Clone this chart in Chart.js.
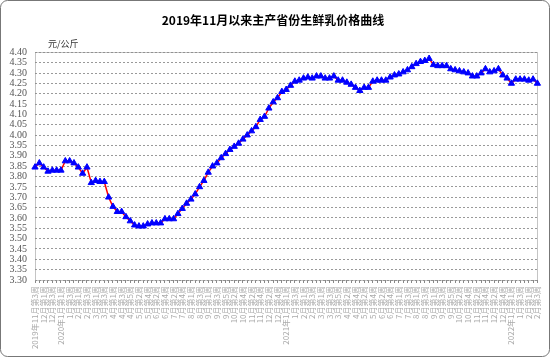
<!DOCTYPE html>
<html>
<head>
<meta charset="utf-8">
<script src="https://cdn.jsdelivr.net/npm/chart.js@4/dist/chart.umd.min.js"></script>
<style>
  html, body { margin: 0; padding: 0; background: #fff; }
  #wrap { width: 550px; height: 357px; }
</style>
</head>
<body>
<div id="wrap"><canvas id="milkChart" width="550" height="357"></canvas></div>
<script>
// 周次标签（2020年春节周缺）
const weekLabels = [
  "2019年11月第3周", "11月第4周", "12月第1周", "12月第2周", "12月第3周", "12月第4周",
  "2020年1月第1周", "1月第2周", "1月第3周", "1月第4周",
  "2月第1周", "2月第2周", "2月第3周", "2月第4周",
  "3月第1周", "3月第2周", "3月第3周", "3月第4周",
  "4月第1周", "4月第2周", "4月第3周", "4月第4周", "4月第5周",
  "5月第1周", "5月第2周", "5月第3周", "5月第4周",
  "6月第1周", "6月第2周", "6月第3周", "6月第4周",
  "7月第1周", "7月第2周", "7月第3周", "7月第4周", "7月第5周",
  "8月第1周", "8月第2周", "8月第3周", "8月第4周",
  "9月第1周", "9月第2周", "9月第3周", "9月第4周", "9月第5周",
  "10月第1周", "10月第2周", "10月第3周", "10月第4周",
  "11月第1周", "11月第2周", "11月第3周", "11月第4周",
  "12月第1周", "12月第2周", "12月第3周", "12月第4周", "12月第5周",
  "2021年1月第1周", "1月第2周", "1月第3周", "1月第4周",
  "2月第1周", "2月第2周", "2月第3周", "2月第4周",
  "3月第1周", "3月第2周", "3月第3周", "3月第4周", "3月第5周",
  "4月第1周", "4月第2周", "4月第3周", "4月第4周",
  "5月第1周", "5月第2周", "5月第3周", "5月第4周",
  "6月第1周", "6月第2周", "6月第3周", "6月第4周", "6月第5周",
  "7月第1周", "7月第2周", "7月第3周", "7月第4周",
  "8月第1周", "8月第2周", "8月第3周", "8月第4周",
  "9月第1周", "9月第2周", "9月第3周", "9月第4周", "9月第5周",
  "10月第1周", "10月第2周", "10月第3周", "10月第4周",
  "11月第1周", "11月第2周", "11月第3周", "11月第4周",
  "12月第1周", "12月第2周", "12月第3周", "12月第4周", "12月第5周",
  "2022年1月第1周", "1月第2周", "1月第3周", "1月第4周",
  "2月第1周", "2月第2周", "2月第3周"
];

// 生鲜乳价格 元/公斤
const milkPrices = [
  3.845, 3.865, 3.845, 3.825, 3.83, 3.83,
  3.83, 3.875, 3.875, 3.865, 3.845, 3.815, 3.845, 3.77, 3.78, 3.775,
  3.775, 3.70, 3.655, 3.63, 3.63, 3.605, 3.585, 3.565, 3.56, 3.56,
  3.57, 3.575, 3.575, 3.575, 3.595, 3.595, 3.595, 3.62, 3.645, 3.67,
  3.69, 3.715, 3.75, 3.78, 3.82, 3.85, 3.865, 3.89, 3.91, 3.93,
  3.945, 3.96, 3.98, 4.00, 4.02, 4.04, 4.075, 4.09, 4.13, 4.16,
  4.18, 4.21,
  4.22, 4.24, 4.26, 4.265, 4.275, 4.28, 4.275, 4.285, 4.285, 4.275,
  4.275, 4.285, 4.265, 4.265, 4.255, 4.245, 4.23, 4.215, 4.23, 4.23,
  4.26, 4.265, 4.265, 4.265, 4.28, 4.29, 4.295, 4.305, 4.315, 4.33,
  4.345, 4.355, 4.36, 4.37, 4.34, 4.335, 4.335, 4.335, 4.32, 4.315,
  4.31, 4.305, 4.30, 4.285, 4.285, 4.30, 4.32, 4.305, 4.31, 4.32,
  4.29, 4.275,
  4.25, 4.27, 4.27, 4.27, 4.265, 4.27, 4.25
];

const yMin = 3.30;
const yMax = 4.40;
const yStep = 0.05;

const chartTitle = "2019年11月以来主产省份生鲜乳价格曲线";
const unitText = "元/公斤";

// 背景、外框、绘图区虚线框、单位
const decorPlugin = {
  id: "decor",
  beforeDraw(chart) {
    const c = chart.ctx;
    c.save();
    c.fillStyle = "#fff";
    c.fillRect(0, 0, chart.width, chart.height);
    c.strokeStyle = "#777";
    c.lineWidth = 1;
    c.beginPath();
    c.roundRect(0.5, 0.5, chart.width - 1, chart.height - 1, 7);
    c.stroke();
    c.restore();
  },
  beforeDatasetsDraw(chart) {
    const a = chart.chartArea;
    const c = chart.ctx;
    c.save();
    c.strokeStyle = "#888";
    c.lineWidth = 1;
    c.setLineDash([1, 1]);
    c.strokeRect(Math.round(a.left) + 0.5, Math.round(a.top) + 0.5,
      Math.round(a.right - a.left), Math.round(a.bottom - a.top));
    c.restore();
  },
  afterDraw(chart) {
    const a = chart.chartArea;
    const c = chart.ctx;
    c.save();
    c.fillStyle = "#333";
    c.font = "9px 'Noto Sans CJK SC'";
    c.textBaseline = "middle";
    c.fillText(unitText, a.left + 13, a.top - 9);
    c.restore();
  }
};

const ctx = document.getElementById("milkChart").getContext("2d");
const milkChart = new Chart(ctx, {
  type: "line",
  data: {
    labels: weekLabels,
    datasets: [{
      label: "生鲜乳价格",
      data: milkPrices,
      borderColor: "#ff0000",
      borderWidth: 1.5,
      tension: 0,
      pointStyle: "triangle",
      pointRadius: 3.6,
      pointBackgroundColor: "#0000ff",
      pointBorderColor: "#0000ff",
      pointBorderWidth: 1,
      clip: false
    }]
  },
  options: {
    responsive: false,
    animation: false,
    layout: { padding: { left: 4, right: 8, top: 0, bottom: 3 } },
    plugins: {
      legend: { display: false },
      tooltip: { enabled: false },
      title: {
        display: true,
        text: chartTitle,
        color: "#000",
        font: { family: "'Noto Sans CJK SC'", size: 12, weight: "bold" },
        padding: { top: 13, bottom: 25 }
      }
    },
    scales: {
      x: {
        offset: false,
        grid: {
          display: true,
          drawOnChartArea: false,
          drawTicks: true,
          tickLength: 3,
          tickColor: "#888",
          offset: false
        },
        border: { display: false },
        ticks: {
          autoSkip: false,
          maxRotation: 90,
          minRotation: 90,
          padding: 3,
          color: "#aaa",
          font: { family: "'Noto Sans CJK SC'", size: 8 },
          callback: (value, i) => (i % 2 === 0 ? weekLabels[i] : "")
        },
        afterFit: (scale) => { scale.height = 74; }
      },
      y: {
        min: yMin,
        max: yMax,
        grid: {
          color: "#999",
          drawTicks: false
        },
        border: { display: false, dash: [2, 2] },
        ticks: {
          autoSkip: false,
          stepSize: yStep,
          padding: 8,
          color: "#555",
          font: { family: "'Liberation Serif'", size: 10 },
          callback: (value) => value.toFixed(2)
        },
        afterFit: (scale) => { scale.width = 31; }
      }
    }
  },
  plugins: [decorPlugin]
});
</script>
</body>
</html>
